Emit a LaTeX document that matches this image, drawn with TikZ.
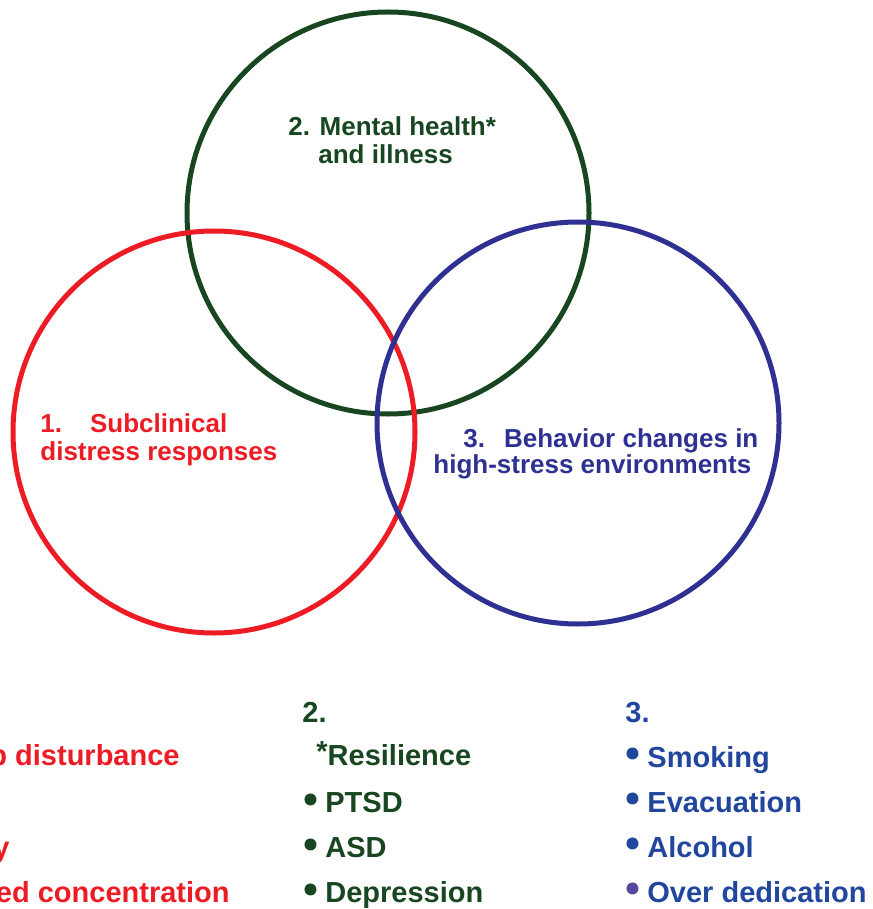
\documentclass[tikz,border=0pt]{standalone}
\usepackage{fontspec}
\setmainfont{Liberation Sans}
\usetikzlibrary{positioning}

\definecolor{distred}{RGB}{237,28,36}
\definecolor{mentgreen}{RGB}{24,70,32}
\definecolor{behavblue}{RGB}{46,49,146}
\definecolor{listblue}{RGB}{33,70,158}
\definecolor{listpurple}{RGB}{84,74,158}

\newcommand{\ringsize}{201pt}
\newcommand{\ringwidth}{2.5pt}
\newcommand{\dotsize}{6pt}

\tikzstyle{ring}=[draw,fill=none,shape=circle,minimum size=\ringsize,
                  line width=\ringwidth,inner sep=0pt]
\tikzstyle{ringtext}=[anchor=base west,inner sep=0pt,
                      font=\fontsize{13}{16}\selectfont\bfseries]
\tikzstyle{listtext}=[anchor=base west,inner sep=0pt,
                      font=\fontsize{14.5}{17}\selectfont\bfseries]
\tikzstyle{cuttext}=[listtext,anchor=base east]
\tikzstyle{bullet}=[fill,draw=none,shape=circle,minimum size=\dotsize,inner sep=0pt]

\begin{document}
\begin{tikzpicture}[x=0.5pt,y=-0.5pt]
\useasboundingbox (0,0) rectangle (872,909);
\clip (0,0) rectangle (872,909);

% the three rings
\node [ring, draw=mentgreen] (mental) at (388,213) {};
\node [ring, draw=distred]  (distress) at (214,432) {};
\node [ring, draw=behavblue] (behav) at (578,423) {};

% ring captions
\node [ringtext, text=mentgreen] (m1) at (288,136) {2. Mental health*};
\node [ringtext, text=mentgreen] (m2) at (318,164) {and illness};
\node [ringtext, text=distred] (d1) at (40,432) {1.\hspace{14pt}Subclinical};
\node [ringtext, text=distred] (d2) at (40,460) {distress responses};
\node [ringtext, text=behavblue] (b1) at (463,447) {3.\hspace{9.5pt}Behavior changes in};
\node [ringtext, text=behavblue] (b2) at (433,473) {high-stress environments};

% list 1, cut at the left edge
\node [cuttext, text=distred] (l1a) at (180,765) {p disturbance};
\node [cuttext, text=distred] (l1b) at (10,857) {y};
\node [cuttext, text=distred] (l1c) at (230,902) {ed concentration};

% list 2
\node [listtext, text=mentgreen] (l2) at (302,722) {2.};
\node [listtext, text=mentgreen] (l2a) at (316,765) {\raisebox{2pt}{*}Resilience};
\node [listtext, text=mentgreen] (l2b) at (325,812) {PTSD};
\node [listtext, text=mentgreen] (l2c) at (325,857) {ASD};
\node [listtext, text=mentgreen] (l2d) at (325,902) {Depression};
\node [bullet, fill=mentgreen, above left=4pt and 5pt of l2b.base west] (g1) {};
\node [bullet, fill=mentgreen, above left=4pt and 5pt of l2c.base west] (g2) {};
\node [bullet, fill=mentgreen, above left=4pt and 5pt of l2d.base west] (g3) {};

% list 3
\node [listtext, text=listblue] (l3) at (625,722) {3.};
\node [listtext, text=listblue] (l3a) at (647,767) {Smoking};
\node [listtext, text=listblue] (l3b) at (647,812) {Evacuation};
\node [listtext, text=listblue] (l3c) at (647,857) {Alcohol};
\node [listtext, text=listblue] (l3d) at (647,902) {Over dedication};
\node [bullet, fill=listblue, above left=4.5pt and 5pt of l3a.base west] (s1) {};
\node [bullet, fill=listblue, above left=4.5pt and 5pt of l3b.base west] (s2) {};
\node [bullet, fill=listblue, above left=4.5pt and 5pt of l3c.base west] (s3) {};
\node [bullet, fill=listpurple, above left=4.5pt and 5pt of l3d.base west] (s4) {};
\end{tikzpicture}
\end{document}
